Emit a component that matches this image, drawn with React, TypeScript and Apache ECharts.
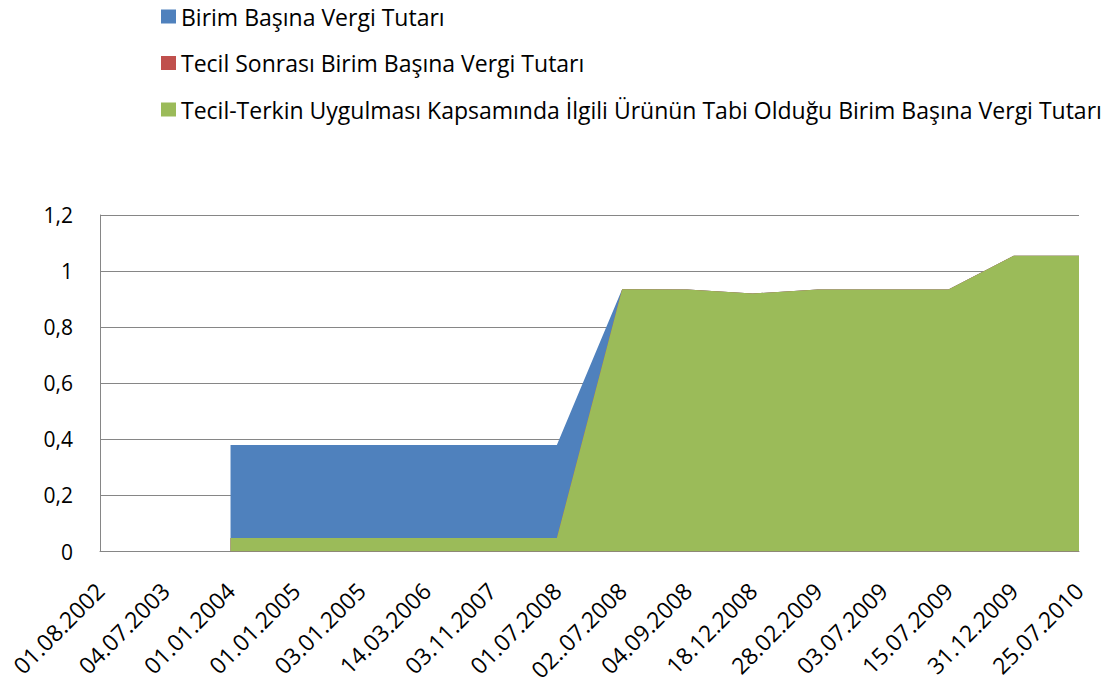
import React, { useEffect, useRef } from "react";
import * as echarts from "echarts";

const categories = [
  "01.08.2002", "04.07.2003", "01.01.2004", "01.01.2005", "03.01.2005", "14.03.2006",
  "03.11.2007", "01.07.2008", "02..07.2008", "04.09.2008", "18.12.2008", "28.02.2009",
  "03.07.2009", "15.07.2009", "31.12.2009", "25.07.2010",
];
const seriesNames = [
  "Birim Başına Vergi Tutarı",
  "Tecil Sonrası Birim Başına Vergi Tutarı",
  "Tecil-Terkin Uygulması Kapsamında İlgili Ürünün Tabi Olduğu Birim Başına Vergi Tutarı",
];
const birimBasina = [null, null, 0.38, 0.38, 0.38, 0.38, 0.38, 0.38, 0.935, 0.934, 0.92, 0.934, 0.934, 0.934, 1.055, 1.055];
const tecilSonrasi = [null, null, 0.048, 0.048, 0.048, 0.048, 0.048, 0.048, 0.935, 0.934, 0.92, 0.934, 0.934, 0.934, 1.055, 1.055];
const tecilTerkin = [null, null, 0.048, 0.048, 0.048, 0.048, 0.048, 0.048, 0.935, 0.934, 0.92, 0.934, 0.934, 0.934, 1.055, 1.055];
const colors = ["#4F81BD", "#C0504D", "#9BBB59"];

const FONT = "'Open Sans', sans-serif";

export default function App() {
  const ref = useRef<HTMLDivElement>(null);
  useEffect(() => {
    if (!ref.current) return;
    const chart = echarts.init(ref.current, null, { renderer: "svg" });
    const datas = [birimBasina, tecilSonrasi, tecilTerkin];
    chart.setOption({
      animation: false,
      color: colors,
      legend: {
        orient: "vertical",
        left: 156,
        top: 0,
        itemWidth: 15,
        itemHeight: 14,
        itemGap: 23.5,
        icon: "rect",
        textStyle: { fontFamily: FONT, fontSize: 23, color: "#000" },
        data: seriesNames,
      },
      grid: {
        left: 100,
        right: 33,
        top: 215,
        height: 336.5,
        containLabel: false,
        outerBoundsMode: "none",
      },
      xAxis: {
        type: "category",
        data: categories,
        boundaryGap: false,
        axisLine: { lineStyle: { color: "#868686", width: 1 } },
        axisTick: { show: false },
        axisLabel: {
          rotate: 45,
          interval: 0,
          margin: 35,
          fontFamily: FONT,
          fontSize: 23,
          color: "#000",
        },
        splitLine: { show: false },
      },
      yAxis: {
        type: "value",
        min: 0,
        max: 1.2,
        interval: 0.2,
        axisLine: { show: true, lineStyle: { color: "#868686", width: 1 } },
        axisTick: { show: false },
        axisLabel: {
          margin: 27,
          fontFamily: FONT,
          fontSize: 21,
          color: "#000",
          formatter: (v: number) => String(Math.round(v * 10) / 10).replace(".", ","),
        },
        splitLine: { lineStyle: { color: "#868686", width: 1 } },
      },
      series: seriesNames.map((name, i) => ({
        name,
        type: "line",
        data: datas[i],
        symbol: "none",
        connectNulls: false,
        lineStyle: { width: 0, color: colors[i] },
        itemStyle: { color: colors[i] },
        areaStyle: { color: colors[i], opacity: 1 },
        z: 2 + i,
      })),
    });
    return () => chart.dispose();
  }, []);
  return (
    <div
      ref={ref}
      style={{ position: "absolute", left: 0, top: 0, width: 1112, height: 686, background: "#fff" }}
    />
  );
}
